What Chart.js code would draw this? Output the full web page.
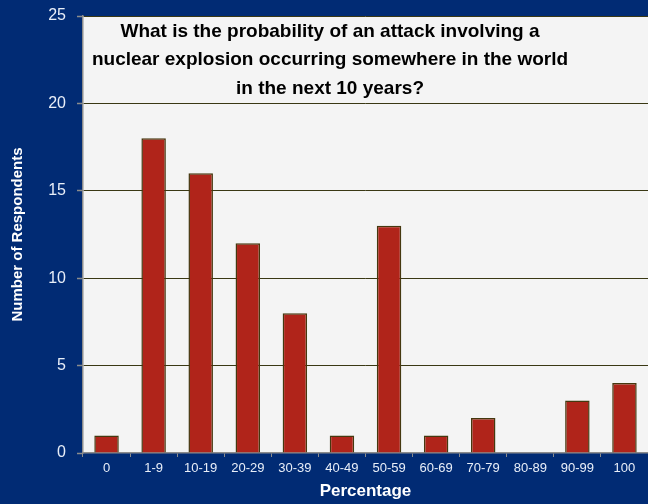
<!DOCTYPE html>
<html>
<head>
<meta charset="utf-8">
<script src="https://cdn.jsdelivr.net/npm/chart.js@4/dist/chart.umd.min.js"></script>
<style>
  html, body { margin: 0; padding: 0; background: #012b74; }
  #wrap { width: 648px; height: 504px; }
</style>
</head>
<body>
<div id="wrap"><canvas id="c" width="648" height="504"></canvas></div>
<script>
// Survey responses: estimated probability ranges and respondent counts
const categories = ['0', '1-9', '10-19', '20-29', '30-39', '40-49', '50-59', '60-69', '70-79', '80-89', '90-99', '100'];
const respondents = [1, 18, 16, 12, 8, 1, 13, 1, 2, 0, 3, 4];
const yTicks = [0, 5, 10, 15, 20, 25];
const titleLines = [
  'What is the probability of an attack involving a',
  'nuclear explosion occurring somewhere in the world',
  'in the next 10 years?'
];

const FONT = '"Liberation Sans", Arial, Helvetica, sans-serif';
const NAVY = '#012b74';

// Paints the navy page, the light plot panel, and the question text inside it
const panelPlugin = {
  id: 'panel',
  beforeDraw(chart) {
    const { ctx, chartArea: a } = chart;
    ctx.save();
    ctx.fillStyle = NAVY;
    ctx.fillRect(0, 0, chart.width, chart.height);
    ctx.fillStyle = '#f4f4f4';
    ctx.fillRect(a.left, a.top, a.right - a.left, a.bottom - a.top);
    ctx.restore();
  },
  afterDraw(chart) {
    const { ctx, chartArea: a } = chart;
    ctx.save();
    ctx.fillStyle = '#000000';
    ctx.font = 'bold 19px ' + FONT;
    ctx.textAlign = 'center';
    ctx.textBaseline = 'alphabetic';
    const cx = chart.width / 2 + 6;
    titleLines.forEach((line, i) => {
      ctx.fillText(line, cx, a.top + 20.5 + i * 28.5);
    });
    ctx.restore();
  }
};

new Chart(document.getElementById('c'), {
  type: 'bar',
  data: {
    labels: categories,
    datasets: [{
      data: respondents,
      backgroundColor: '#b0241a',
      borderColor: '#45380f',
      borderWidth: 1.5,
      categoryPercentage: 1.0,
      barPercentage: 0.52
    }]
  },
  options: {
    responsive: false,
    animation: false,
    layout: { padding: { top: 16, right: 0, bottom: 0, left: 0 } },
    plugins: {
      legend: { display: false },
      tooltip: { enabled: false }
    },
    scales: {
      x: {
        offset: true,
        afterFit(scale) { scale.height = 51; },
        grid: {
          offset: true,
          drawOnChartArea: false,
          drawTicks: true,
          tickLength: 4,
          tickColor: '#8c8c8c',
          tickWidth: 1
        },
        border: { display: true, color: '#8c8c8c', width: 1.5 },
        ticks: {
          color: '#e8eef8',
          font: { family: FONT, size: 13 },
          padding: 4,
          maxRotation: 0,
          autoSkip: false
        },
        title: {
          display: true,
          text: 'Percentage',
          color: '#ffffff',
          font: { family: FONT, size: 17, weight: 'bold' },
          padding: { top: 0, bottom: 2 }
        }
      },
      y: {
        min: 0,
        max: 25,
        afterFit(scale) { scale.width = 83; },
        afterBuildTicks(scale) { scale.ticks = yTicks.map(v => ({ value: v })); },
        grid: {
          color: ctx => (ctx.tick && ctx.tick.value === 0) ? 'rgba(0,0,0,0)' : '#3a3814',
          lineWidth: 1,
          borderDash: [2, 1.5],
          drawTicks: true,
          tickLength: 6,
          tickColor: '#8c8c8c',
          tickBorderDash: [],
          tickWidth: 1.5
        },
        border: { display: true, color: '#8c8c8c', width: 1.5 },
        ticks: {
          color: '#e8eef8',
          font: { family: FONT, size: 16, lineHeight: 0.6 },
          padding: 11
        },
        title: {
          display: true,
          text: 'Number of Respondents',
          color: '#ffffff',
          font: { family: FONT, size: 15, weight: 'bold' },
          padding: { top: 9, bottom: 0 }
        }
      }
    }
  },
  plugins: [panelPlugin]
});
</script>
</body>
</html>
